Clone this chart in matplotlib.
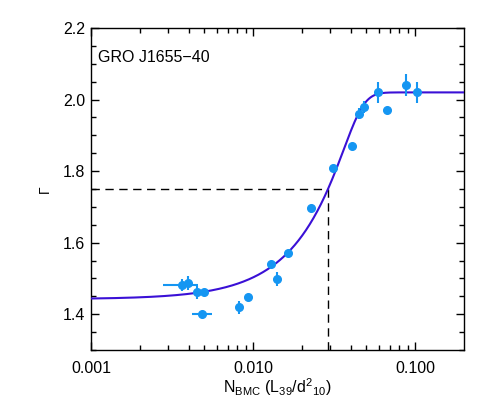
import numpy as np
import matplotlib
matplotlib.use('Agg')
import matplotlib.pyplot as plt
from matplotlib.ticker import FixedLocator, MultipleLocator, FormatStrFormatter, NullFormatter

plt.rcParams['font.family'] = ['Liberation Sans', 'DejaVu Sans']
plt.rcParams['mathtext.fontset'] = 'custom'
plt.rcParams['mathtext.rm'] = 'Liberation Sans'
plt.rcParams['mathtext.it'] = 'Liberation Sans'

# Observed points: normalization vs photon index
n_bmc = [0.00366, 0.00398, 0.00449, 0.00499, 0.00487, 0.0082, 0.00935, 0.0129,
         0.0140, 0.0165, 0.0228, 0.0313, 0.0410, 0.0447, 0.0480, 0.0589,
         0.0668, 0.0875, 0.102]
gamma = [1.481, 1.488, 1.461, 1.461, 1.400, 1.419, 1.448, 1.540,
         1.498, 1.570, 1.698, 1.810, 1.871, 1.961, 1.980, 2.020,
         1.971, 2.041, 2.020]
gamma_err = [0.017, 0.019, 0.018, 0.0, 0.0, 0.019, 0.0, 0.0,
             0.020, 0.0, 0.0, 0.0, 0.0, 0.015, 0.017, 0.030,
             0.0, 0.030, 0.030]
n_err_lo = [0.00086, 0, 0, 0, 0.00068, 0, 0, 0, 0, 0, 0, 0, 0, 0, 0, 0, 0, 0, 0]
n_err_hi = [0.00094, 0, 0, 0, 0.00069, 0, 0, 0, 0, 0, 0, 0, 0, 0, 0, 0, 0, 0, 0]

# Fit parameters of the saturation model
fit_A, fit_B, fit_D, fit_xtr, fit_N = 2.02, 0.577, 0.2, 0.0425, 1.55
gamma_sat = 1.75
n_sat = 0.0289


def model(x):
    u = 1.0 - (x / fit_xtr) ** fit_N
    return fit_A - fit_D * fit_B * np.log(np.exp(u / fit_D) + 1.0)


fig = plt.figure(figsize=(4.91, 4.08), dpi=100)
ax = fig.add_axes([91 / 491, 1 - 350 / 408, 373 / 491, 322 / 408])

xx = np.logspace(-3, np.log10(0.2), 400)
ax.plot(xx, model(xx), color='#3a10d6', lw=1.5, zorder=3)

ax.plot([0.001, n_sat], [gamma_sat, gamma_sat], color='black', lw=1.0,
        linestyle=(0, (6, 4)), zorder=2)
ax.plot([n_sat, n_sat], [1.3, gamma_sat], color='black', lw=1.0,
        linestyle=(0, (6, 4)), zorder=2)

ax.errorbar(n_bmc, gamma, yerr=gamma_err, xerr=[n_err_lo, n_err_hi],
            fmt='o', color='#1596f2', ms=5.5, elinewidth=1.5, capsize=0, zorder=4)

ax.set_xscale('log')
ax.set_xlim(0.001, 0.2)
ax.set_ylim(1.3, 2.2)

ax.xaxis.set_major_locator(FixedLocator([0.001, 0.01, 0.1]))
ax.xaxis.set_major_formatter(FormatStrFormatter('%.3f'))
minors = [m * 10.0 ** e for e in (-3, -2, -1) for m in range(2, 10)]
ax.xaxis.set_minor_locator(FixedLocator([v for v in minors if v < 0.2]))
ax.xaxis.set_minor_formatter(NullFormatter())
ax.yaxis.set_major_locator(MultipleLocator(0.2))
ax.yaxis.set_major_formatter(FormatStrFormatter('%.1f'))
ax.yaxis.set_minor_locator(MultipleLocator(0.05))

ax.tick_params(which='both', direction='in', top=True, right=True,
               labelsize=11.5, width=1.0)
ax.tick_params(which='major', length=6)
ax.tick_params(which='minor', length=3.5)
ax.tick_params(axis='x', which='major', pad=8)
ax.tick_params(axis='y', which='major', pad=4)
for s in ax.spines.values():
    s.set_linewidth(1.0)

ax.set_xlabel(r'N$_{\mathrm{BMC}}$ (L$_{39}$/d$^2$$_{10}$)', fontsize=11.5, labelpad=0)
ax.set_ylabel('Γ', fontsize=10, rotation=90, labelpad=8)
ax.text(0.019, 0.895, 'GRO J1655−40', transform=ax.transAxes, fontsize=11.5,
        va='baseline', ha='left')

plt.savefig('out.png', dpi=100)
